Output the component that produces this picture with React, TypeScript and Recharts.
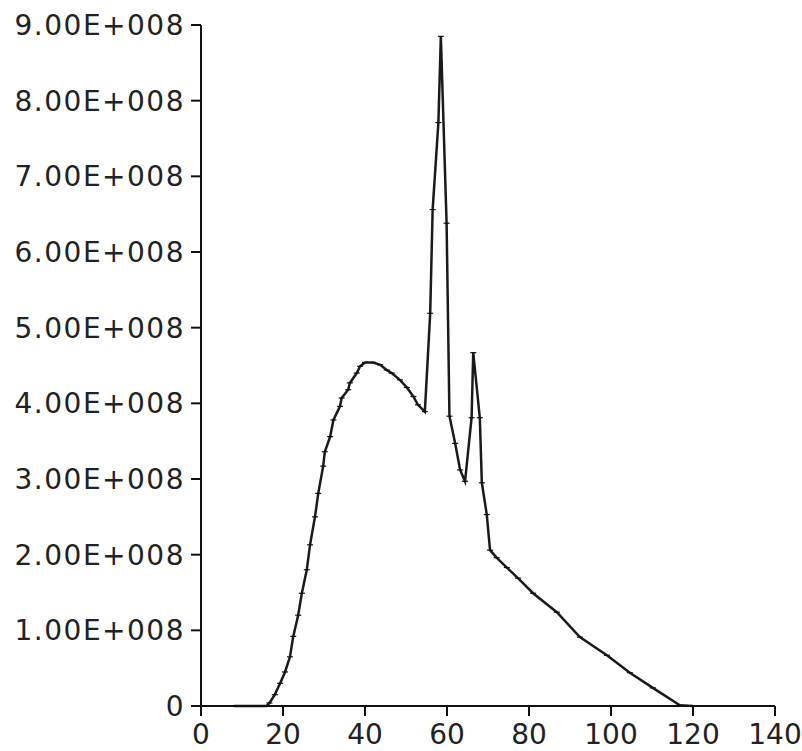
import { LineChart, Line, XAxis, YAxis } from 'recharts';

const xValues = [
  8, 10, 12, 14, 16, 16.7, 18.0, 19.3, 20.5, 21.7, 22.5, 23.7, 24.6, 25.8, 26.6, 27.8, 28.6, 29.8,
  30.2, 31.5, 32.3, 33.9, 34.3, 35.9, 36.3, 38.0, 38.8, 40.0, 42.0, 43.7, 45.3, 46.5, 48.5, 50.2,
  51.8, 52.9, 54.6, 55.9, 56.5, 57.9, 58.5, 59.9, 60.6, 62.0, 63.2, 64.4, 66.0, 66.4, 68.0, 68.5,
  69.7, 70.5, 72.1, 74.6, 77.3, 81.0, 86.8, 92.4, 99.0, 104.6, 110.2, 116.8, 120,
];

const yValues = [
  0, 0, 0, 0, 0, 0.04e8, 0.15e8, 0.3e8, 0.45e8, 0.65e8, 0.92e8, 1.2e8, 1.49e8, 1.8e8, 2.13e8, 2.5e8,
  2.81e8, 3.17e8, 3.36e8, 3.56e8, 3.78e8, 3.96e8, 4.07e8, 4.18e8, 4.27e8, 4.4e8, 4.49e8, 4.54e8,
  4.54e8, 4.51e8, 4.44e8, 4.4e8, 4.31e8, 4.21e8, 4.09e8, 3.98e8, 3.89e8, 5.19e8, 6.56e8, 7.71e8,
  8.85e8, 6.38e8, 3.83e8, 3.47e8, 3.12e8, 2.97e8, 3.81e8, 4.67e8, 3.81e8, 2.95e8, 2.53e8, 2.06e8,
  1.96e8, 1.83e8, 1.69e8, 1.49e8, 1.24e8, 0.91e8, 0.67e8, 0.44e8, 0.24e8, 0.01e8, 0,
];

const xTicks = [0, 20, 40, 60, 80, 100, 120, 140];
const yTicks = [0, 1e8, 2e8, 3e8, 4e8, 5e8, 6e8, 7e8, 8e8, 9e8];

const data = xValues.map((x, i) => ({ x, y: yValues[i] }));

const formatY = (v: number) => (v === 0 ? '0' : `${(v / 1e8).toFixed(2)}E+008`);

const xTickStyle = { fontFamily: 'DejaVu Sans', fontSize: 28, fill: '#222' };
const yTickStyle = { fontFamily: 'DejaVu Sans', fontSize: 28, fill: '#222', letterSpacing: 1.5 };

const Marker = (props: any) => {
  const { cx, cy } = props;
  if (cx == null || cy == null) return null;
  return <line x1={cx - 3} y1={cy} x2={cx + 3} y2={cy} stroke="#111" strokeWidth={1.2} />;
};

export default function App() {
  return (
    <div style={{ position: 'absolute', left: 0, top: 0, background: '#fff' }}>
      <LineChart width={802} height={751} data={data} margin={{ top: 25, right: 27, left: 0, bottom: 0 }}>
        <XAxis
          dataKey="x"
          type="number"
          domain={[0, 140]}
          ticks={xTicks}
          height={45}
          tickSize={10}
          tickMargin={8}
          stroke="#111"
          strokeWidth={2}
          tick={xTickStyle}
          interval={0}
        />
        <YAxis
          dataKey="y"
          type="number"
          domain={[0, 9e8]}
          ticks={yTicks}
          width={201}
          tickSize={10}
          tickMargin={6}
          stroke="#111"
          strokeWidth={2}
          tick={yTickStyle}
          tickFormatter={formatY}
          interval={0}
        />
        <Line
          type="linear"
          dataKey="y"
          stroke="#1a1a1a"
          strokeWidth={2.5}
          dot={<Marker />}
          isAnimationActive={false}
        />
      </LineChart>
    </div>
  );
}
